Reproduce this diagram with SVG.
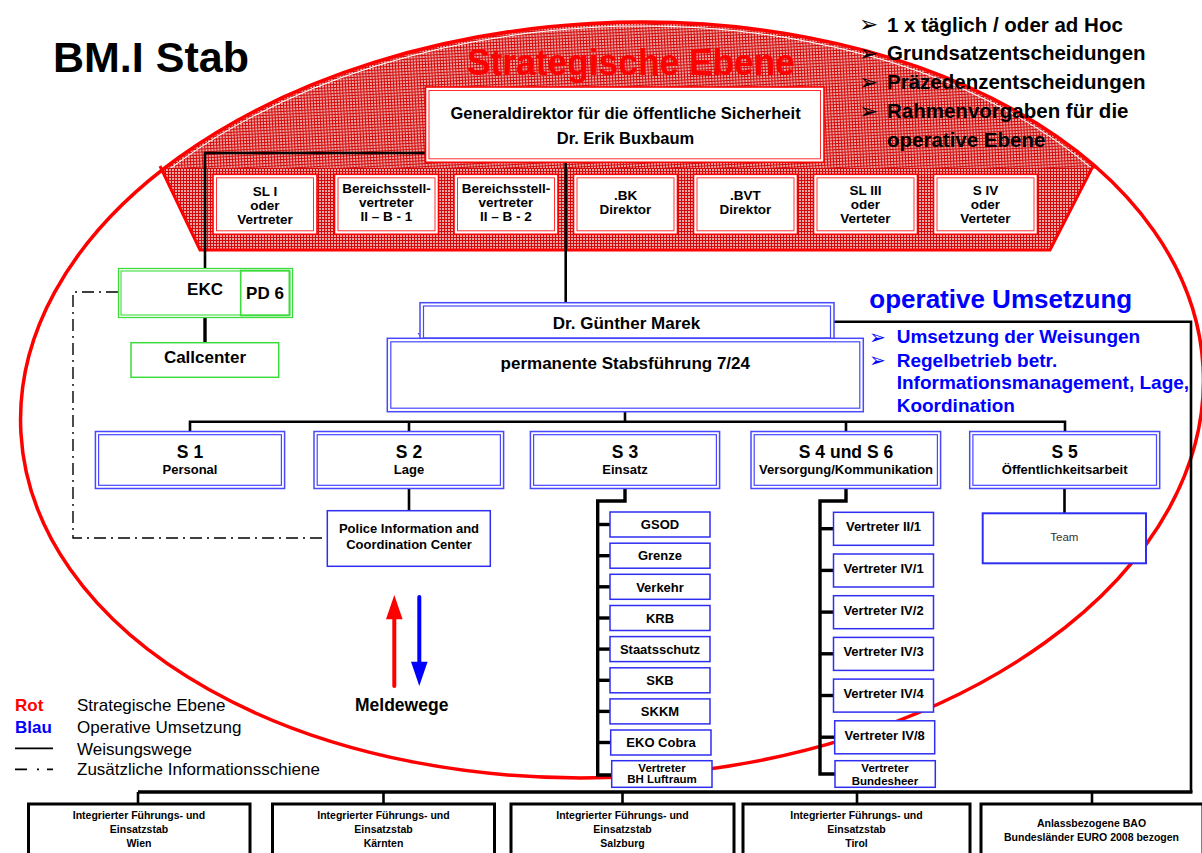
<svg xmlns="http://www.w3.org/2000/svg" width="1202" height="853" viewBox="0 0 1202 853">
<defs>
<pattern id="hatch" width="3" height="3" patternUnits="userSpaceOnUse">
<rect width="3" height="3" fill="#eca6a6"/>
<path d="M0 0.5H3M0.5 0V3" stroke="#d40a0a" stroke-width="1"/>
</pattern>
<clipPath id="cap"><rect x="0" y="0" width="1202" height="168.5"/></clipPath>
</defs>
<style>
text{font-family:"Liberation Sans",Arial,Helvetica,sans-serif;font-weight:bold;fill:#000;text-anchor:middle}
.l{text-anchor:start}
.n{font-weight:normal}
.ro{fill:#fff;stroke:#ff0000;stroke-width:1.6}
.ri{fill:none;stroke:#ff3030;stroke-width:1}
.bo{fill:#fff;stroke:#4848ff;stroke-width:1.5}
.bi{fill:none;stroke:#4848ff;stroke-width:1.2}
.bs{fill:#fff;stroke:#2e2ef2;stroke-width:1.5}
.go{fill:#fff;stroke:#3cdc3c;stroke-width:1.3}
.gi{fill:none;stroke:#3cdc3c;stroke-width:1.1}
.blk{fill:#fff;stroke:#000;stroke-width:3}
.ln{fill:none;stroke:#000;stroke-width:2.6}
.lt{fill:none;stroke:#000;stroke-width:3.4}
.dd{fill:none;stroke:#000;stroke-width:1.4;stroke-dasharray:12 5 2 5}
.rt{font-size:13.5px}
.st{font-size:17.5px}
.ss{font-size:13px}
.sm{font-size:11.5px}
.bt{font-size:10.5px}
.bul{font-size:20.5px}
.blue{fill:#0000ff}
.red{fill:#ff0000}
.arr{font-family:"DejaVu Sans",sans-serif;font-weight:normal;text-anchor:start}
</style>

<!-- background strategic region -->
<g id="strategic-area">
<g clip-path="url(#cap)">
<ellipse cx="612" cy="400" rx="592" ry="377" transform="rotate(-3.2 612 400)" fill="url(#hatch)"/>
<ellipse cx="612" cy="400" rx="588" ry="373" transform="rotate(-3.2 612 400)" fill="none" stroke="#fff" stroke-width="1"/>
</g>
<polygon points="161,168 1092,168 1050,250 200,250" fill="url(#hatch)"/>
<polyline points="160,166 200,250 1050,250 1093,166" fill="none" stroke="#ff0000" stroke-width="3"/>
<ellipse cx="612" cy="400" rx="592" ry="377" transform="rotate(-3.2 612 400)" fill="none" stroke="#ff0000" stroke-width="3.5"/>
<text x="631" y="75" class="red" style="font-size:36px" textLength="328" lengthAdjust="spacingAndGlyphs">Strategische Ebene</text>
</g>

<text x="53" y="72" class="l" style="font-size:43px">BM.I Stab</text>

<g id="top-bullets">
<text x="859" y="32" class="arr" style="font-size:23px">➢</text>
<text x="887" y="31.5" class="l bul">1 x täglich / oder ad Hoc</text>
<text x="859" y="60.5" class="arr" style="font-size:23px">➢</text>
<text x="887" y="60" class="l bul">Grundsatzentscheidungen</text>
<text x="859" y="89.5" class="arr" style="font-size:23px">➢</text>
<text x="887" y="89" class="l bul">Präzedenzentscheidungen</text>
<text x="859" y="118.5" class="arr" style="font-size:23px">➢</text>
<text x="887" y="118" class="l bul">Rahmenvorgaben für die</text>
<text x="887" y="147" class="l bul">operative Ebene</text>
</g>

<!-- connectors -->
<g id="connectors">
<polyline class="ln" points="425.5,153 205,153 205,268.3"/>
<line class="lt" x1="205" y1="317.3" x2="205" y2="342.7"/>
<line class="ln" x1="565.7" y1="162.3" x2="565.7" y2="302.7"/>
<polyline class="ln" points="834,321.7 1191,321.7 1191,792"/>
<line class="lt" x1="138" y1="792" x2="1192.5" y2="792"/>
<line class="ln" x1="138" y1="792" x2="138" y2="804"/>
<line class="ln" x1="383.5" y1="792" x2="383.5" y2="804"/>
<line class="ln" x1="622.5" y1="792" x2="622.5" y2="804"/>
<line class="ln" x1="857" y1="792" x2="857" y2="804"/>
<line class="ln" x1="1092" y1="792" x2="1092" y2="804"/>
<line class="ln" x1="625" y1="411" x2="625" y2="421.7"/>
<polyline class="ln" points="190,431.5 190,421.7 1065,421.7 1065,431.5"/>
<line class="ln" x1="409" y1="421.7" x2="409" y2="431.5"/>
<line class="ln" x1="846" y1="421.7" x2="846" y2="431.5"/>
<line class="ln" x1="409" y1="488" x2="409" y2="511"/>
<line class="ln" x1="1064.5" y1="488" x2="1064.5" y2="513.5"/>
<polyline class="lt" points="625,488 625,501 597.7,501 597.7,775 611,775"/>
<polyline class="lt" points="846,488 846,501 820,501 820,774 835,774"/>
<g class="lt">
<line x1="597.7" y1="524.5" x2="610" y2="524.5"/>
<line x1="597.7" y1="555.7" x2="610" y2="555.7"/>
<line x1="597.7" y1="586.8" x2="610" y2="586.8"/>
<line x1="597.7" y1="618" x2="610" y2="618"/>
<line x1="597.7" y1="649.1" x2="610" y2="649.1"/>
<line x1="597.7" y1="680.3" x2="610" y2="680.3"/>
<line x1="597.7" y1="711.4" x2="610" y2="711.4"/>
<line x1="597.7" y1="742.5" x2="610" y2="742.5"/>
<line x1="820" y1="528.7" x2="833.5" y2="528.7"/>
<line x1="820" y1="570.4" x2="833.5" y2="570.4"/>
<line x1="820" y1="612.1" x2="833.5" y2="612.1"/>
<line x1="820" y1="653.8" x2="833.5" y2="653.8"/>
<line x1="820" y1="695.5" x2="833.5" y2="695.5"/>
<line x1="820" y1="737.2" x2="834.5" y2="737.2"/>
</g>
<path class="dd" d="M118,292 H73 V538 H327"/>
<polyline points="418,333 421.7,338 425.4,333" fill="none" stroke="#2e2ef2" stroke-width="1"/>
</g>

<!-- Generaldirektor -->
<g id="generaldirektor">
<rect class="ro" x="425.5" y="87" width="398.5" height="75.3"/>
<rect class="ri" x="429" y="90.5" width="391.5" height="68.3"/>
<text x="625.5" y="118.5" style="font-size:16.5px">Generaldirektor für die öffentliche Sicherheit</text>
<text x="625.5" y="144" style="font-size:16.5px">Dr. Erik Buxbaum</text>
</g>

<g id="sl1">
<rect class="ro" x="213" y="174.3" width="104" height="60"/><rect class="ri" x="216.5" y="177.8" width="97" height="53"/>
<text x="265" y="195.5" class="rt">SL I</text><text x="265" y="209.5" class="rt">oder</text><text x="265" y="223.5" class="rt">Vertreter</text>
</g>
<g id="bsv1">
<rect class="ro" x="334.5" y="174.3" width="104" height="60"/><rect class="ri" x="338" y="177.8" width="97" height="53"/>
<text x="386.5" y="192.5" class="rt">Bereichsstell-</text><text x="386.5" y="206.5" class="rt">vertreter</text><text x="386.5" y="220.5" class="rt">II – B - 1</text>
</g>
<g id="bsv2">
<rect class="ro" x="454" y="174.3" width="104" height="60"/><rect class="ri" x="457.5" y="177.8" width="97" height="53"/>
<text x="506" y="192.5" class="rt">Bereichsstell-</text><text x="506" y="206.5" class="rt">vertreter</text><text x="506" y="220.5" class="rt">II – B - 2</text>
</g>
<g id="bk">
<rect class="ro" x="573.5" y="174.3" width="104" height="60"/><rect class="ri" x="577" y="177.8" width="97" height="53"/>
<text x="625.5" y="200" class="rt">.BK</text><text x="625.5" y="214" class="rt">Direktor</text>
</g>
<g id="bvt">
<rect class="ro" x="693.5" y="174.3" width="104" height="60"/><rect class="ri" x="697" y="177.8" width="97" height="53"/>
<text x="745.5" y="200" class="rt">.BVT</text><text x="745.5" y="214" class="rt">Direktor</text>
</g>
<g id="sl3">
<rect class="ro" x="813.5" y="174.3" width="104" height="60"/><rect class="ri" x="817" y="177.8" width="97" height="53"/>
<text x="865.5" y="195" class="rt">SL III</text><text x="865.5" y="209" class="rt">oder</text><text x="865.5" y="223" class="rt">Verteter</text>
</g>
<g id="s4v">
<rect class="ro" x="933.5" y="174.3" width="104" height="60"/><rect class="ri" x="937" y="177.8" width="97" height="53"/>
<text x="985.5" y="195" class="rt">S IV</text><text x="985.5" y="209" class="rt">oder</text><text x="985.5" y="223" class="rt">Verteter</text>
</g>

<!-- EKC -->
<g id="ekc">
<rect class="go" x="118.5" y="268.5" width="174" height="49"/>
<rect class="gi" x="121" y="271" width="169" height="44"/>
<rect class="gi" x="240.7" y="270.5" width="48.6" height="45" style="stroke-width:1.6"/>
<text x="205" y="295" style="font-size:17px">EKC</text>
<text x="265" y="298.5" style="font-size:17px">PD 6</text>
</g>
<g id="callcenter">
<rect class="go" x="131" y="342.7" width="147.7" height="34.6" style="stroke-width:1.5"/>
<text x="205" y="362.7" style="font-size:17px">Callcenter</text>
</g>

<!-- Marek and Stabsführung -->
<g id="marek">
<rect class="bo" x="420" y="302.7" width="414" height="36"/>
<rect class="bi" x="423.5" y="306" width="407" height="32"/>
<text x="626.5" y="329" style="font-size:17px">Dr. Günther Marek</text>
</g>
<g id="stabsfuehrung">
<rect class="bo" x="387.3" y="338.3" width="476" height="73.4"/>
<rect class="bi" x="390.8" y="341.8" width="469" height="66.4"/>
<text x="625.3" y="369" style="font-size:17px">permanente Stabsführung 7/24</text>
</g>

<g id="op-header">
<text x="869.3" y="308" class="l blue" style="font-size:26px">operative Umsetzung</text>
<text x="869" y="343.5" class="arr blue" style="font-size:20px">➢</text>
<text x="896.7" y="343.3" class="l blue" style="font-size:19px">Umsetzung der Weisungen</text>
<text x="869" y="367" class="arr blue" style="font-size:20px">➢</text>
<text x="896.7" y="366.7" class="l blue" style="font-size:19px">Regelbetrieb betr.</text>
<text x="896.7" y="389" class="l blue" style="font-size:19px">Informationsmanagement, Lage,</text>
<text x="896.7" y="411.7" class="l blue" style="font-size:19px">Koordination</text>
</g>

<!-- S row -->
<g id="s1">
<rect class="bo" x="95.4" y="431.5" width="189.2" height="57"/><rect class="bi" x="98.6" y="434.7" width="182.8" height="50.6"/>
<text x="190" y="458" class="st">S 1</text><text x="190" y="474" class="ss">Personal</text>
</g>
<g id="s2">
<rect class="bo" x="314" y="431.5" width="189.6" height="57"/><rect class="bi" x="317.2" y="434.7" width="183.2" height="50.6"/>
<text x="409" y="458" class="st">S 2</text><text x="409" y="474" class="ss">Lage</text>
</g>
<g id="s3">
<rect class="bo" x="530.4" y="431.5" width="189.2" height="57"/><rect class="bi" x="533.6" y="434.7" width="182.8" height="50.6"/>
<text x="625" y="458" class="st">S 3</text><text x="625" y="474" class="ss">Einsatz</text>
</g>
<g id="s46">
<rect class="bo" x="751" y="431.5" width="189.6" height="57"/><rect class="bi" x="754.2" y="434.7" width="183.2" height="50.6"/>
<text x="846" y="458" class="st">S 4 und S 6</text><text x="846" y="474" class="ss">Versorgung/Kommunikation</text>
</g>
<g id="s5">
<rect class="bo" x="969.7" y="431.5" width="190" height="57"/><rect class="bi" x="972.9" y="434.7" width="183.6" height="50.6"/>
<text x="1064.7" y="458" class="st">S 5</text><text x="1064.7" y="474" class="ss">Öffentlichkeitsarbeit</text>
</g>

<g id="picc">
<rect class="bs" x="327.3" y="510.7" width="163" height="55.6"/>
<text x="409" y="533" class="ss">Police Information and</text>
<text x="409" y="549" class="ss">Coordination Center</text>
</g>

<g id="team">
<rect class="bs" x="982.7" y="513.3" width="163.3" height="50" style="stroke-width:2"/>
<text x="1064.3" y="540.7" class="n" style="font-size:11.5px;fill:#333">Team</text>
</g>

<!-- S3 list -->
<g id="s3-gsod"><rect class="bs" x="610" y="512" width="100" height="25"/><text x="660" y="529.2" class="ss">GSOD</text></g>
<g id="s3-grenze"><rect class="bs" x="610" y="543.2" width="100" height="25"/><text x="660" y="560.4" class="ss">Grenze</text></g>
<g id="s3-verkehr"><rect class="bs" x="610" y="574.3" width="100" height="25"/><text x="660" y="591.5" class="ss">Verkehr</text></g>
<g id="s3-krb"><rect class="bs" x="610" y="605.5" width="100" height="25"/><text x="660" y="622.7" class="ss">KRB</text></g>
<g id="s3-staatsschutz"><rect class="bs" x="610" y="636.6" width="100" height="25"/><text x="660" y="653.8" class="ss">Staatsschutz</text></g>
<g id="s3-skb"><rect class="bs" x="610" y="667.8" width="100" height="25"/><text x="660" y="685" class="ss">SKB</text></g>
<g id="s3-skkm"><rect class="bs" x="610" y="698.9" width="100" height="25"/><text x="660" y="716.1" class="ss">SKKM</text></g>
<g id="s3-eko"><rect class="bs" x="610.7" y="730" width="100.3" height="25"/><text x="661" y="747.2" class="ss">EKO Cobra</text></g>
<g id="s3-bh"><rect class="bs" x="611.7" y="760.7" width="100.3" height="26.6"/><text x="662" y="772" class="sm">Vertreter</text><text x="662" y="783" class="sm">BH Luftraum</text></g>

<!-- S4 list -->
<g id="s4-ii1"><rect class="bs" x="833.5" y="512.3" width="100" height="33"/><text x="883.5" y="531.3" class="ss">Vertreter II/1</text></g>
<g id="s4-iv1"><rect class="bs" x="833.5" y="554" width="100" height="33"/><text x="883.5" y="573" class="ss">Vertreter IV/1</text></g>
<g id="s4-iv2"><rect class="bs" x="833.5" y="595.7" width="100" height="33"/><text x="883.5" y="614.7" class="ss">Vertreter IV/2</text></g>
<g id="s4-iv3"><rect class="bs" x="833.5" y="637.4" width="100" height="33"/><text x="883.5" y="656.4" class="ss">Vertreter IV/3</text></g>
<g id="s4-iv4"><rect class="bs" x="833.5" y="679.1" width="100" height="33"/><text x="883.5" y="698.1" class="ss">Vertreter IV/4</text></g>
<g id="s4-iv8"><rect class="bs" x="834.7" y="720.8" width="100" height="33"/><text x="884.7" y="739.8" class="ss">Vertreter IV/8</text></g>
<g id="s4-bh"><rect class="bs" x="835" y="760.7" width="100.3" height="26.6"/><text x="885" y="771.5" class="sm">Vertreter</text><text x="885" y="785" class="sm">Bundesheer</text></g>

<!-- Meldewege -->
<g id="meldewege">
<line x1="394.3" y1="686" x2="394.3" y2="616" stroke="#ff0000" stroke-width="4" stroke-linecap="round"/>
<polygon points="386,619.3 394.3,595 402.6,619.3" fill="#ff0000"/>
<line x1="419.3" y1="597" x2="419.3" y2="664" stroke="#0000ff" stroke-width="4" stroke-linecap="round"/>
<polygon points="411,661.7 419.3,686 427.6,661.7" fill="#0000ff"/>
<text x="401.7" y="711" style="font-size:17.5px">Meldewege</text>
</g>

<!-- Legend -->
<g id="legend">
<text x="15" y="711" class="l red" style="font-size:17px">Rot</text>
<text x="77" y="711" class="l n" style="font-size:17px">Strategische Ebene</text>
<text x="15" y="733" class="l blue" style="font-size:17px">Blau</text>
<text x="77" y="733" class="l n" style="font-size:17px">Operative Umsetzung</text>
<line x1="15" y1="748.3" x2="53" y2="748.3" stroke="#000" stroke-width="1.8"/>
<text x="77" y="754.5" class="l n" style="font-size:17px">Weisungswege</text>
<path d="M15,769.3H27M37,769.3H39M47,769.3H53" stroke="#000" stroke-width="1.8"/>
<text x="77" y="775" class="l n" style="font-size:17px">Zusätzliche Informationsschiene</text>
</g>

<!-- bottom row -->
<g id="ifes-wien">
<rect class="blk" x="28.5" y="804" width="221.5" height="60"/>
<text x="139" y="818.5" class="bt">Integrierter Führungs- und</text><text x="139" y="832.5" class="bt">Einsatzstab</text><text x="139" y="846.5" class="bt">Wien</text>
</g>
<g id="ifes-kaernten">
<rect class="blk" x="272.5" y="804" width="222" height="60"/>
<text x="383.5" y="818.5" class="bt">Integrierter Führungs- und</text><text x="383.5" y="832.5" class="bt">Einsatzstab</text><text x="383.5" y="846.5" class="bt">Kärnten</text>
</g>
<g id="ifes-salzburg">
<rect class="blk" x="511" y="804" width="223" height="60"/>
<text x="622.5" y="818.5" class="bt">Integrierter Führungs- und</text><text x="622.5" y="832.5" class="bt">Einsatzstab</text><text x="622.5" y="846.5" class="bt">Salzburg</text>
</g>
<g id="ifes-tirol">
<rect class="blk" x="743" y="804" width="227" height="60"/>
<text x="856.5" y="818.5" class="bt">Integrierter Führungs- und</text><text x="856.5" y="832.5" class="bt">Einsatzstab</text><text x="856.5" y="846.5" class="bt">Tirol</text>
</g>
<g id="bao">
<rect class="blk" x="981" y="804" width="222" height="60"/>
<text x="1091.5" y="826.5" class="bt">Anlassbezogene BAO</text><text x="1091.5" y="840.5" class="bt">Bundesländer EURO 2008 bezogen</text>
</g>
</svg>
